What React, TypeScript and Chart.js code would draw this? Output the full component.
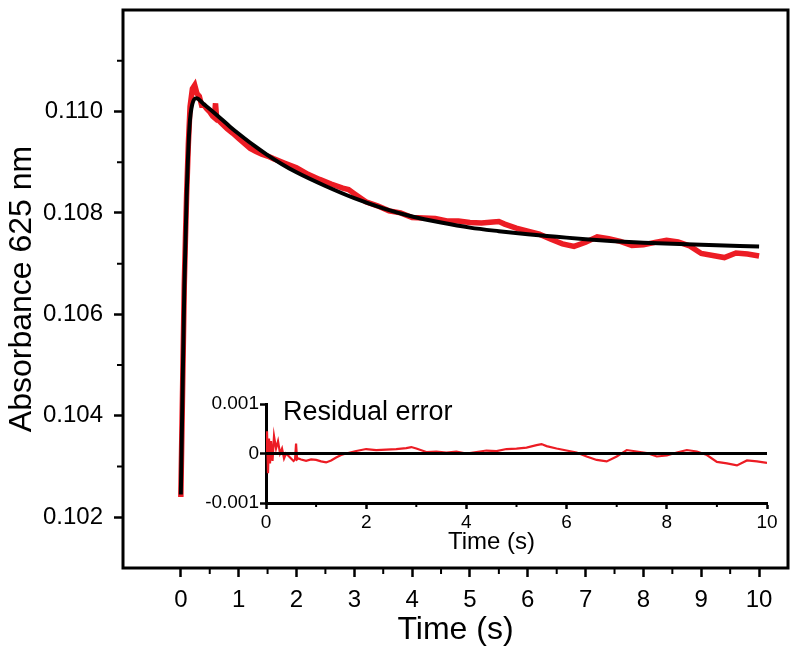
import React, { useEffect, useRef } from 'react';
import { Chart, registerables } from 'chart.js';
Chart.register(...registerables);

const FONT = "'Liberation Sans', Arial, Helvetica, sans-serif";
const RED = '#ec1c24';

// Measured data (time in s)
const times = [0, 0.02, 0.04, 0.06, 0.08, 0.1, 0.13, 0.16, 0.2, 0.24, 0.28, 0.32, 0.36, 0.4, 0.45, 0.5, 0.55, 0.58, 0.6, 0.62, 0.65, 0.7, 0.8, 0.9, 1.0, 1.1, 1.2, 1.3, 1.4, 1.5, 1.6, 1.8, 2.0, 2.2, 2.4, 2.6, 2.8, 2.9, 3.0, 3.2, 3.4, 3.6, 3.8, 4.0, 4.2, 4.4, 4.6, 4.8, 5.0, 5.2, 5.4, 5.5, 5.6, 5.8, 6.0, 6.2, 6.4, 6.6, 6.8, 7.0, 7.2, 7.4, 7.6, 7.8, 8.0, 8.2, 8.4, 8.6, 8.8, 9.0, 9.2, 9.4, 9.6, 9.8, 10.0];
const absorbance = [0.1024, 0.1038, 0.1052, 0.1066, 0.1075, 0.10835, 0.10935, 0.1101, 0.11045, 0.11052, 0.11035, 0.1103, 0.11012, 0.11012, 0.11005, 0.10999, 0.10991, 0.10988, 0.11016, 0.10985, 0.10983, 0.10977, 0.10966, 0.10957, 0.10947, 0.10937, 0.10927, 0.10921, 0.10916, 0.10912, 0.10907, 0.10898, 0.10889, 0.10876, 0.10866, 0.10857, 0.10849, 0.10846, 0.10838, 0.10822, 0.10814, 0.10804, 0.108, 0.10791, 0.1079, 0.10789, 0.10784, 0.10784, 0.10781, 0.1078, 0.10782, 0.10783, 0.10778, 0.1077, 0.10764, 0.10758, 0.10748, 0.10739, 0.10734, 0.10742, 0.10753, 0.10749, 0.10744, 0.10736, 0.10737, 0.10742, 0.10746, 0.10743, 0.10735, 0.1072, 0.10716, 0.10712, 0.10721, 0.10719, 0.10715];

// Fitted curve
const fitTimes = [0, 0.03, 0.06, 0.1, 0.15, 0.2, 0.27, 0.4, 0.55, 0.7, 0.85, 1.0, 1.25, 1.5, 1.75, 2.0, 2.5, 3.0, 3.5, 4.0, 4.5, 5.0, 5.5, 6.0, 6.5, 7.0, 7.5, 8.0, 9.0, 10.0];
const fitValues = [0.10245, 0.1045, 0.1065, 0.1083, 0.1097, 0.11015, 0.11026, 0.11014, 0.11, 0.10985, 0.1097, 0.10956, 0.10934, 0.10914, 0.10896, 0.1088, 0.10853, 0.10829, 0.10809, 0.10793, 0.10781, 0.10771, 0.10764, 0.10758, 0.10753, 0.10748, 0.10744, 0.10741, 0.10737, 0.10734];

// Residual error (inset)
const residual = [0, 0.00045, -0.0004, 0.0003, -0.0002, 0.00025, -0.00015, 0.00035, 0.0001, 0.00025, 0, 0.0001, -0.0001, 0, -0.00005, -0.0001, -0.00015, -0.00012, 0.0002, -0.00012, -0.0001, -0.00012, -0.00015, -0.00012, -0.00013, -0.00016, -0.00018, -0.00014, -0.00008, -0.00003, 0, 0.00005, 0.00009, 0.00007, 0.00008, 0.00009, 0.00011, 0.00013, 0.0001, 0.00003, 0.00004, 0.00002, 0.00004, 0, 0.00003, 0.00006, 0.00005, 0.00009, 0.0001, 0.00012, 0.00017, 0.00019, 0.00015, 0.0001, 0.00006, 0.00002, -0.00006, -0.00013, -0.00016, -0.00006, 0.00007, 0.00004, 0.00001, -0.00006, -0.00004, 0.00002, 0.00007, 0.00004, -0.00003, -0.00017, -0.0002, -0.00024, -0.00014, -0.00016, -0.00019];
const zeroTimes = [0, 10];
const zeroValues = [0, 0];

// Ticks
const mainXTicks = [0, 1, 2, 3, 4, 5, 6, 7, 8, 9, 10];
const mainXMinor = [0.5, 1.5, 2.5, 3.5, 4.5, 5.5, 6.5, 7.5, 8.5, 9.5];
const mainYTicks = [0.102, 0.104, 0.106, 0.108, 0.110];
const mainYMinor = [0.103, 0.105, 0.107, 0.109, 0.111];
const insetXTicks = [0, 2, 4, 6, 8, 10];
const insetXMinor = [1, 3, 5, 7, 9];
const insetYTicks = [-0.001, 0, 0.001];

const pts = (xs: number[], ys: number[]) => xs.map((x, i) => ({ x, y: ys[i] }));

const mainDecor = {
  id: 'mainDecor',
  afterDraw(chart: any) {
    const { ctx, chartArea: a, scales } = chart;
    ctx.save();
    ctx.strokeStyle = '#000';
    ctx.lineWidth = 3;
    ctx.strokeRect(a.left, a.top, a.right - a.left, a.bottom - a.top);
    ctx.lineWidth = 2;
    ctx.beginPath();
    mainXMinor.forEach((v) => {
      const x = scales.x.getPixelForValue(v);
      ctx.moveTo(x, a.bottom);
      ctx.lineTo(x, a.bottom + 6);
    });
    mainYMinor.forEach((v) => {
      const y = scales.y.getPixelForValue(v);
      ctx.moveTo(a.left, y);
      ctx.lineTo(a.left - 6, y);
    });
    ctx.stroke();
    ctx.restore();
  },
};

const insetDecor = {
  id: 'insetDecor',
  afterDraw(chart: any) {
    const { ctx, chartArea: a, scales } = chart;
    ctx.save();
    ctx.strokeStyle = '#000';
    ctx.lineWidth = 2;
    ctx.beginPath();
    insetXMinor.forEach((v) => {
      const x = scales.x.getPixelForValue(v);
      ctx.moveTo(x, a.bottom);
      ctx.lineTo(x, a.bottom + 4);
    });
    ctx.stroke();
    ctx.fillStyle = '#000';
    ctx.font = `27px ${FONT}`;
    ctx.textAlign = 'left';
    ctx.textBaseline = 'alphabetic';
    ctx.fillText('Residual error', a.left + 17, a.top + 16);
    ctx.font = `24px ${FONT}`;
    ctx.textAlign = 'center';
    ctx.fillText('Time (s)', scales.x.getPixelForValue(4.5), a.bottom + 46);
    ctx.restore();
  },
};

export default function App() {
  const mainRef = useRef<HTMLCanvasElement>(null);
  const insetRef = useRef<HTMLCanvasElement>(null);

  useEffect(() => {
    const tickGrid = (len: number) => ({
      display: true,
      drawOnChartArea: false,
      drawTicks: true,
      tickLength: len,
      tickWidth: 2.5,
      tickColor: '#000',
    });

    const main = new Chart(mainRef.current!, {
      type: 'line',
      data: {
        datasets: [
          {
            data: pts(fitTimes, fitValues),
            borderColor: '#000',
            borderWidth: 4,
            pointRadius: 0,
            cubicInterpolationMode: 'monotone',
            order: 0,
          },
          {
            data: pts(times, absorbance),
            borderColor: RED,
            borderWidth: 5.5,
            pointRadius: 0,
            tension: 0,
            order: 1,
          },
        ],
      },
      options: {
        responsive: false,
        devicePixelRatio: 1,
        animation: false,
        events: [],
        layout: { padding: { left: 0, top: 10, right: 12, bottom: 0 } },
        plugins: { legend: { display: false }, tooltip: { enabled: false } },
        scales: {
          x: {
            type: 'linear',
            min: -1,
            max: 10.5,
            afterBuildTicks: (s: any) => {
              s.ticks = mainXTicks.map((v) => ({ value: v }));
            },
            afterFit: (s: any) => {
              s.height = 97;
              s.paddingLeft = 0;
              s.paddingRight = 0;
            },
            grid: tickGrid(9),
            border: { display: false },
            ticks: {
              color: '#000',
              font: { family: FONT, size: 24 },
              padding: 9,
              maxRotation: 0,
              autoSkip: false,
              callback: (v: any) => String(v),
            },
            title: {
              display: true,
              text: 'Time (s)',
              color: '#000',
              font: { family: FONT, size: 32 },
              padding: { top: 0, bottom: 16 },
            },
          },
          y: {
            type: 'linear',
            min: 0.101,
            max: 0.112,
            afterBuildTicks: (s: any) => {
              s.ticks = mainYTicks.map((v) => ({ value: v }));
            },
            afterFit: (s: any) => {
              s.width = 123;
              s.paddingTop = 0;
              s.paddingBottom = 0;
            },
            grid: tickGrid(9),
            border: { display: false },
            ticks: {
              color: '#000',
              font: { family: FONT, size: 24 },
              padding: 11,
              autoSkip: false,
              callback: (v: any) => Number(v).toFixed(3),
            },
            title: {
              display: true,
              text: 'Absorbance 625 nm',
              color: '#000',
              font: { family: FONT, size: 32 },
              padding: { top: 3, bottom: 0 },
            },
          },
        },
      },
      plugins: [mainDecor],
    } as any);

    const inset = new Chart(insetRef.current!, {
      type: 'line',
      data: {
        datasets: [
          {
            data: pts(zeroTimes, zeroValues),
            borderColor: '#000',
            borderWidth: 3,
            pointRadius: 0,
            order: 0,
          },
          {
            data: pts(times, residual),
            borderColor: RED,
            borderWidth: 2.2,
            pointRadius: 0,
            tension: 0,
            order: 1,
          },
        ],
      },
      options: {
        responsive: false,
        devicePixelRatio: 1,
        animation: false,
        events: [],
        layout: { padding: { left: 0, top: 19, right: 13, bottom: 0 } },
        plugins: { legend: { display: false }, tooltip: { enabled: false } },
        scales: {
          x: {
            type: 'linear',
            min: 0,
            max: 10,
            afterBuildTicks: (s: any) => {
              s.ticks = insetXTicks.map((v) => ({ value: v }));
            },
            afterFit: (s: any) => {
              s.height = 57;
              s.paddingLeft = 0;
              s.paddingRight = 0;
            },
            grid: tickGrid(6),
            border: { display: true, width: 3, color: '#000' },
            ticks: {
              color: '#000',
              font: { family: FONT, size: 19 },
              padding: 2,
              maxRotation: 0,
              autoSkip: false,
              callback: (v: any) => String(v),
            },
          },
          y: {
            type: 'linear',
            min: -0.001,
            max: 0.001,
            afterBuildTicks: (s: any) => {
              s.ticks = insetYTicks.map((v) => ({ value: v }));
            },
            afterFit: (s: any) => {
              s.width = 76;
              s.paddingTop = 0;
              s.paddingBottom = 0;
            },
            grid: tickGrid(6),
            border: { display: true, width: 3, color: '#000' },
            ticks: {
              color: '#000',
              font: { family: FONT, size: 19 },
              padding: 1,
              autoSkip: false,
              callback: (v: any) => (Number(v) === 0 ? '0' : Number(v).toFixed(3)),
            },
          },
        },
      },
      plugins: [insetDecor],
    } as any);

    return () => {
      main.destroy();
      inset.destroy();
    };
  }, []);

  return (
    <div style={{ position: 'absolute', left: 0, top: 0, width: 800, height: 665, background: '#fff' }}>
      <canvas ref={mainRef} width={800} height={665} style={{ position: 'absolute', left: 0, top: 0, display: 'block' }} />
      <canvas ref={insetRef} width={590} height={175} style={{ position: 'absolute', left: 190, top: 385, display: 'block' }} />
    </div>
  );
}
